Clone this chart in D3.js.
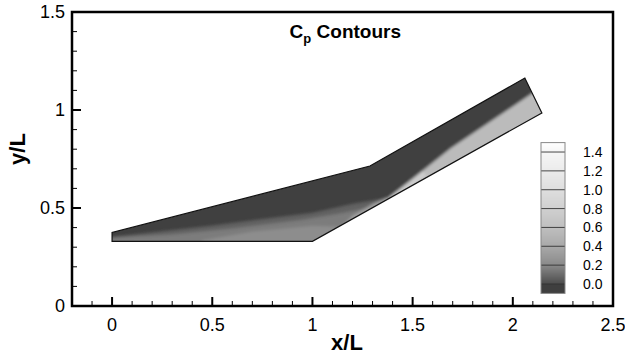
<!DOCTYPE html>
<html><head><meta charset="utf-8">
<script src="https://cdn.jsdelivr.net/npm/d3@7"></script>
<style>
body{margin:0;background:#fff;}
svg{display:block;font-family:"Liberation Sans",Arial,sans-serif;}
</style></head>
<body><svg id="c" width="625" height="355"></svg>
<script>
// ---- data ----
const xTicks = [0, 0.5, 1, 1.5, 2, 2.5];
const yTicks = [0, 0.5, 1, 1.5];
const legendLevels = [0.0, 0.2, 0.4, 0.6, 0.8, 1.0, 1.2, 1.4];
const cpStops = [-0.1, 0.0, 0.2, 0.4, 0.6, 0.8, 1.0, 1.2, 1.4, 1.5];
const greyStops = ["#3c3c3c", "#4c4c4c", "#8a8a8a", "#a9a9a9", "#bfbfbf", "#d0d0d0", "#dedede", "#ebebeb", "#f6f6f6", "#ffffff"];
// body outline (lower wall, right edge, upper boundary)
const domainPts = [[0,0.33],[1,0.33],[2.145,0.985],[2.06,1.163],[1.287,0.714],[0,0.375]];
// Cp zones, drawn in order
const zoneCp = [-0.08, 0.07, 0.15, 0.22, 0.34, 0.56, 0.75];
const zoneFree = [[-0.2,0.2],[2.4,0.2],[2.4,1.3],[-0.2,1.3]];
const zoneLowA = [[-0.1,0.352],[0,0.352],[0.5,0.41],[1.0,0.475],[1.2,0.52],[1.34,0.545],[1.36,0.51],[1,0.28],[-0.1,0.28]];
const zoneLowB = [[-0.1,0.342],[0.3,0.365],[0.6,0.395],[0.95,0.44],[1.15,0.475],[1.3,0.507],[1.32,0.49],[1,0.28],[-0.1,0.28]];
const zoneWedge = [[0.42,0.28],[0.45,0.335],[0.7,0.38],[1.0,0.41],[1.12,0.405],[1.14,0.39],[1.0,0.28]];
const zoneCorner = [[1.12,0.38],[1.2,0.46],[1.3,0.52],[1.37,0.552],[1.4,0.53],[1.2,0.41]];
const zoneRamp = [[1.33,0.48],[1.36,0.536],[1.69,0.805],[2.097,1.085],[2.2,1.156],[2.3,1.0],[2.3,0.9],[1.6,0.45]];
const zoneBright = [[1.38,0.552],[1.55,0.688],[1.57,0.665],[1.41,0.545]];
const zones = [zoneFree, zoneLowA, zoneLowB, zoneWedge, zoneCorner, zoneRamp, zoneBright];

// ---- layout ----
const svg = d3.select("#c");
const x = d3.scaleLinear().domain([-0.2, 2.5]).range([72, 613]);
const y = d3.scaleLinear().domain([0, 1.5]).range([306, 12]);
const grey = d3.scaleLinear().domain(cpStops).range(greyStops).clamp(true);
const line = d3.line().x(d => x(d[0])).y(d => y(d[1]));

const defs = svg.append("defs");
defs.append("clipPath").attr("id", "dom").append("path").attr("d", line(domainPts) + "Z");
defs.append("filter").attr("id", "soft").attr("x", "-10%").attr("y", "-10%").attr("width", "120%").attr("height", "120%")
  .append("feGaussianBlur").attr("stdDeviation", 1.8);

const field = svg.append("g").attr("clip-path", "url(#dom)").append("g").attr("filter", "url(#soft)");
field.selectAll("path").data(zones).join("path")
  .attr("d", d => line(d) + "Z")
  .attr("fill", (d, i) => grey(zoneCp[i]));

svg.append("path").attr("d", line(domainPts) + "Z")
  .attr("fill", "none").attr("stroke", "#111").attr("stroke-width", 1.2).attr("stroke-linejoin", "miter");

// ---- axes ----
const xMinor = d3.range(-2, 26).map(i => i / 10).filter(v => !xTicks.some(t => Math.abs(t - v) < 1e-6));
const yMinor = d3.range(1, 15).map(i => i / 10).filter(v => !yTicks.some(t => Math.abs(t - v) < 1e-6));

const gx = svg.append("g");
gx.selectAll(".mn").data(xMinor).join("line")
  .attr("x1", d => x(d)).attr("x2", d => x(d)).attr("y1", 306).attr("y2", 301)
  .attr("stroke", "#000").attr("stroke-width", 1);
gx.selectAll(".mj").data(xTicks).join("line")
  .attr("x1", d => x(d)).attr("x2", d => x(d)).attr("y1", 306).attr("y2", 297)
  .attr("stroke", "#000").attr("stroke-width", 2);
gx.selectAll("text").data(xTicks).join("text")
  .attr("x", d => x(d)).attr("y", 331).attr("text-anchor", "middle")
  .attr("font-size", 18).text(d => d3.format("")(d));

const gy = svg.append("g");
gy.selectAll(".mn").data(yMinor).join("line")
  .attr("x1", 72).attr("x2", 77).attr("y1", d => y(d)).attr("y2", d => y(d))
  .attr("stroke", "#000").attr("stroke-width", 1);
gy.selectAll(".mj").data(yTicks).join("line")
  .attr("x1", 72).attr("x2", 81).attr("y1", d => y(d)).attr("y2", d => y(d))
  .attr("stroke", "#000").attr("stroke-width", 2);
gy.selectAll("text").data(yTicks).join("text")
  .attr("x", 65).attr("y", d => y(d)).attr("dy", "0.36em").attr("text-anchor", "end")
  .attr("font-size", 18).text(d => d3.format("")(d));

svg.append("rect").attr("x", 72).attr("y", 12).attr("width", 541).attr("height", 294)
  .attr("fill", "none").attr("stroke", "#000").attr("stroke-width", 2.5);

svg.append("text").attr("x", 347).attr("y", 350).attr("text-anchor", "middle")
  .attr("font-size", 22).attr("font-weight", "bold").text("x/L");
svg.append("text").attr("transform", "translate(25,149) rotate(-90)").attr("text-anchor", "middle")
  .attr("font-size", 22).attr("font-weight", "bold").text("y/L");

const title = svg.append("text").attr("x", 401).attr("y", 38).attr("text-anchor", "end")
  .attr("font-size", 19).attr("font-weight", "bold");
title.append("tspan").text("C");
title.append("tspan").attr("font-size", 13).attr("dy", 5).text("p");
title.append("tspan").attr("dy", -5).text(" Contours");

// ---- legend ----
const ly = d3.scaleLinear().domain([-0.1, 1.5]).range([293.4, 142.6]);
const lg = svg.append("g");
const rows = d3.range(Math.round(ly(1.5)), Math.round(ly(-0.1)));
lg.selectAll("rect.s").data(rows).join("rect")
  .attr("x", 541).attr("y", d => d).attr("width", 24).attr("height", 1.2)
  .attr("fill", d => {
    const v = ly.invert(d + 0.5);
    return v < 0 ? grey(-0.08) : grey(v);
  });
lg.selectAll("line").data(legendLevels).join("line")
  .attr("x1", 541).attr("x2", 565).attr("y1", d => ly(d)).attr("y2", d => ly(d))
  .attr("stroke", "#333").attr("stroke-width", 0.9);
lg.append("rect").attr("x", 541).attr("y", ly(1.5)).attr("width", 24).attr("height", ly(-0.1) - ly(1.5))
  .attr("fill", "none").attr("stroke", "#888").attr("stroke-width", 1);
lg.selectAll("text").data(legendLevels).join("text")
  .attr("x", 583).attr("y", d => ly(d)).attr("dy", "0.36em")
  .attr("font-size", 14).text(d => d3.format(".1f")(d));
</script></body></html>
